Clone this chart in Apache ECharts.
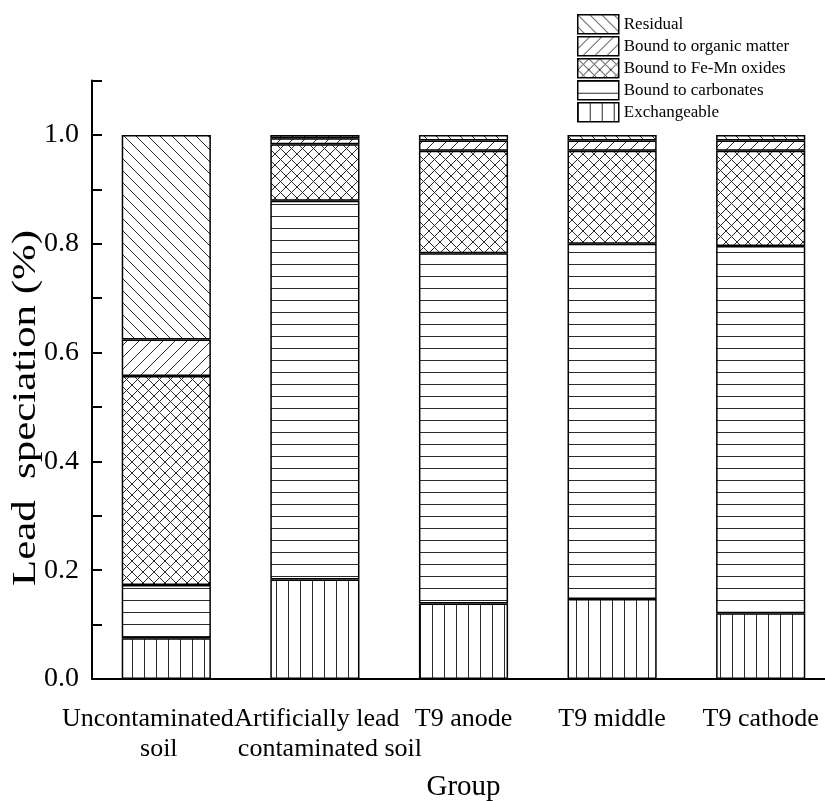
<!DOCTYPE html>
<html>
<head>
<meta charset="utf-8">
<script src="https://cdn.jsdelivr.net/npm/echarts@6/dist/echarts.min.js"></script>
<style>
  html, body { margin: 0; padding: 0; background: #fff; }
  #chart { width: 825px; height: 801px; }
</style>
</head>
<body>
<div id="chart"></div>
<script>
// Groups along the x axis
const groups = [
  'Uncontaminated\nsoil',
  'Artificially lead\ncontaminated soil',
  'T9 anode',
  'T9 middle',
  'T9 cathode'
];

// Fraction of lead in each speciation form, per group (stacked from the bottom)
const exchangeable   = [0.075, 0.183, 0.139, 0.147, 0.121];
const carbonates     = [0.098, 0.696, 0.6435, 0.653, 0.675];
const feMnOxides     = [0.384, 0.104, 0.1885, 0.171, 0.175];
const organicMatter  = [0.067, 0.011, 0.019, 0.019, 0.019];
const residual       = [0.376, 0.006, 0.010, 0.010, 0.010];

const seriesNames = [
  'Exchangeable',
  'Bound to carbonates',
  'Bound to Fe-Mn oxides',
  'Bound to organic matter',
  'Residual'
];
const legendOrder = [
  'Residual',
  'Bound to organic matter',
  'Bound to Fe-Mn oxides',
  'Bound to carbonates',
  'Exchangeable'
];

const yTitle = 'Lead  speciation (%)';
const xTitle = 'Group';

const FONT = '"Liberation Serif", "Times New Roman", serif';

// Hatch fills drawn onto small repeating canvases
function hatch(kind) {
  const s = kind === 'cross' ? 11 : 12;
  const c = document.createElement('canvas');
  c.width = s; c.height = s;
  const g = c.getContext('2d');
  g.fillStyle = '#fff';
  g.fillRect(0, 0, s, s);
  g.strokeStyle = '#2a2a2a';
  g.lineWidth = 1;
  g.beginPath();
  const back = () => { for (const o of [-s, 0, s]) { g.moveTo(o, 0); g.lineTo(o + s, s); } };
  const fwd  = () => { for (const o of [-s, 0, s]) { g.moveTo(o, s); g.lineTo(o + s, 0); } };
  if (kind === 'vertical') { g.moveTo(0.5, 0); g.lineTo(0.5, s); }
  else if (kind === 'horizontal') { g.moveTo(0, 0.5); g.lineTo(s, 0.5); }
  else if (kind === 'back') back();
  else if (kind === 'fwd') fwd();
  else if (kind === 'cross') { back(); fwd(); }
  g.stroke();
  return { image: c, repeat: 'repeat' };
}

const fills = [hatch('vertical'), hatch('horizontal'), hatch('cross'), hatch('fwd'), hatch('back')];
const values = [exchangeable, carbonates, feMnOxides, organicMatter, residual];

// Per-line nudges for the two-line group labels (rich text padding)
const labelLine = (size) => ({ fontFamily: FONT, fontSize: 26, lineHeight: 30, color: '#000', padding: size });
const richLabels = {
  u1: labelLine([0, 37, 0, 0]),
  u2: labelLine([0, 15, 0, 0]),
  a1: labelLine([0, 0, 0, 4]),
  a2: labelLine([0, 0, 0, 30])
};
const richKeys = [['u1', 'u2'], ['a1', 'a2']];

const chart = echarts.init(document.getElementById('chart'), null, { renderer: 'canvas' });

chart.setOption({
  animation: false,
  backgroundColor: '#fff',
  grid: {
    left: 92, right: -10, top: 80.6, bottom: 122,
    containLabel: false,
    outerBoundsMode: 'none'
  },
  legend: {
    orient: 'vertical',
    left: 577,
    top: 14,
    padding: 0,
    itemWidth: 41,
    itemHeight: 19,
    itemGap: 1.5,
    icon: 'rect',
    data: legendOrder,
    itemStyle: { borderColor: '#000', borderWidth: 1.5 },
    textStyle: { fontFamily: FONT, fontSize: 17, lineHeight: 19, color: '#000' }
  },
  // Tall, narrow y-axis title
  graphic: [{
    type: 'text',
    x: 26,
    y: 408,
    rotation: Math.PI / 2,
    scaleX: 1.3,
    silent: true,
    style: {
      text: yTitle,
      fontFamily: FONT,
      fontSize: 33,
      fill: '#000',
      align: 'center',
      verticalAlign: 'middle'
    }
  }],
  xAxis: {
    type: 'category',
    data: groups,
    name: xTitle,
    nameLocation: 'middle',
    nameGap: 94,
    nameMoveOverlap: false,
    nameTextStyle: { fontFamily: FONT, fontSize: 29, color: '#000' },
    axisLine: { lineStyle: { color: '#000', width: 2 } },
    axisTick: { show: false },
    axisLabel: {
      interval: 0,
      margin: 25,
      fontFamily: FONT,
      fontSize: 26,
      lineHeight: 30,
      color: '#000',
      hideOverlap: false,
      formatter: (v, i) => {
        const keys = richKeys[i];
        if (!keys) return v;
        const [first, rest] = v.split('\n');
        return '{' + keys[0] + '|' + first + '}\n{' + keys[1] + '|' + rest + '}';
      },
      rich: richLabels
    }
  },
  yAxis: {
    type: 'value',
    min: 0,
    max: 1.1,
    interval: 0.1,
    axisLine: { show: true, lineStyle: { color: '#000', width: 2 } },
    axisTick: { show: true, inside: true, length: 10, lineStyle: { color: '#000', width: 2 } },
    splitLine: { show: false },
    axisLabel: {
      margin: 13,
      fontFamily: FONT,
      fontSize: 28,
      color: '#000',
      formatter: v => (Math.round(v * 10) % 2 === 0 ? v.toFixed(1) : '')
    }
  },
  series: seriesNames.map((name, i) => ({
    name,
    type: 'bar',
    stack: 'lead',
    barWidth: '60%',
    data: values[i],
    itemStyle: { color: fills[i], borderColor: '#000', borderWidth: 1.5 },
    emphasis: { disabled: true }
  }))
});
</script>
</body>
</html>
